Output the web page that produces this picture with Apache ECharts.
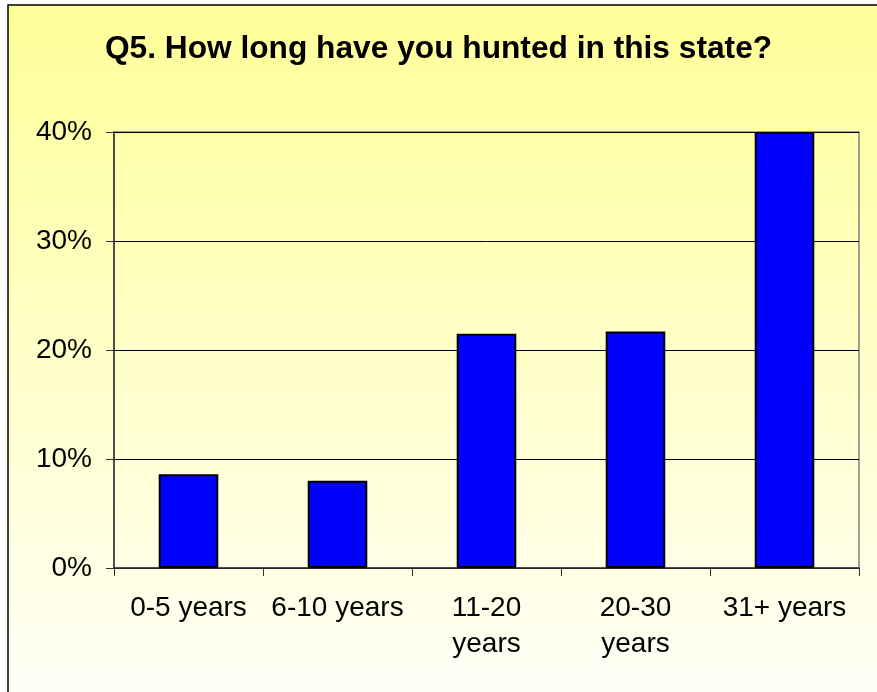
<!DOCTYPE html>
<html>
<head>
<meta charset="utf-8">
<script src="https://cdn.jsdelivr.net/npm/echarts@6/dist/echarts.min.js"></script>
<style>
  html, body { margin: 0; padding: 0; background: #fff; }
  #chart { width: 877px; height: 692px; }
</style>
</head>
<body>
<div id="chart"></div>
<script>
const categories = ['0-5 years', '6-10 years', '11-20\nyears', '20-30\nyears', '31+ years']
const shares = [8.6, 8.0, 21.5, 21.7, 40.0]
const yTicks = [0, 10, 20, 30, 40]

const font = '"Liberation Sans", Arial, sans-serif'
let myChart = echarts.init(document.getElementById('chart'))
myChart.setOption({
    backgroundColor: '#ffffff',
    title: {
        text: 'Q5. How long have you hunted in this state?',
        left: 'center',
        top: 28,
        textStyle: { fontFamily: font, fontSize: 31.7, fontWeight: 'bold', color: '#000' }
    },
    graphic: [
        {
            // chart area frame, runs off the right and bottom edges
            type: 'rect',
            z: -10,
            shape: { x: 8, y: 5, width: 880, height: 700 },
            style: {
                fill: {
                    type: 'linear', x: 0, y: 0, x2: 0, y2: 1,
                    colorStops: [
                        { offset: 0, color: '#ffff99' },
                        { offset: 1, color: '#fffff8' }
                    ]
                },
                stroke: '#000',
                lineWidth: 1.5
            }
        }
    ],
    grid: {
        left: 114, right: 18, top: 132, bottom: 124,
        show: true, borderColor: '#808080', borderWidth: 1.5,
        backgroundColor: 'transparent'
    },
    xAxis: {
        type: 'category',
        data: categories,
        axisLine: { lineStyle: { color: '#333', width: 1.5 } },
        axisTick: { show: true, length: 8, lineStyle: { color: '#333' } },
        axisLabel: { interval: 0, fontFamily: font, fontSize: 28, color: '#000', margin: 22, lineHeight: 36 }
    },
    yAxis: {
        type: 'value',
        min: yTicks[0],
        max: yTicks[yTicks.length - 1],
        interval: 10,
        axisLine: { show: true, lineStyle: { color: '#333', width: 1.5 } },
        axisTick: { show: true, length: 8, lineStyle: { color: '#333' } },
        splitLine: { lineStyle: { color: '#000', width: 1 } },
        axisLabel: { fontFamily: font, fontSize: 28, color: '#000', margin: 22, formatter: '{value}%' }
    },
    series: [
        {
            type: 'bar',
            data: shares,
            barWidth: '40%',
            itemStyle: { color: '#0000ff', borderColor: '#000', borderWidth: 2 }
        }
    ]
})
</script>
</body>
</html>
